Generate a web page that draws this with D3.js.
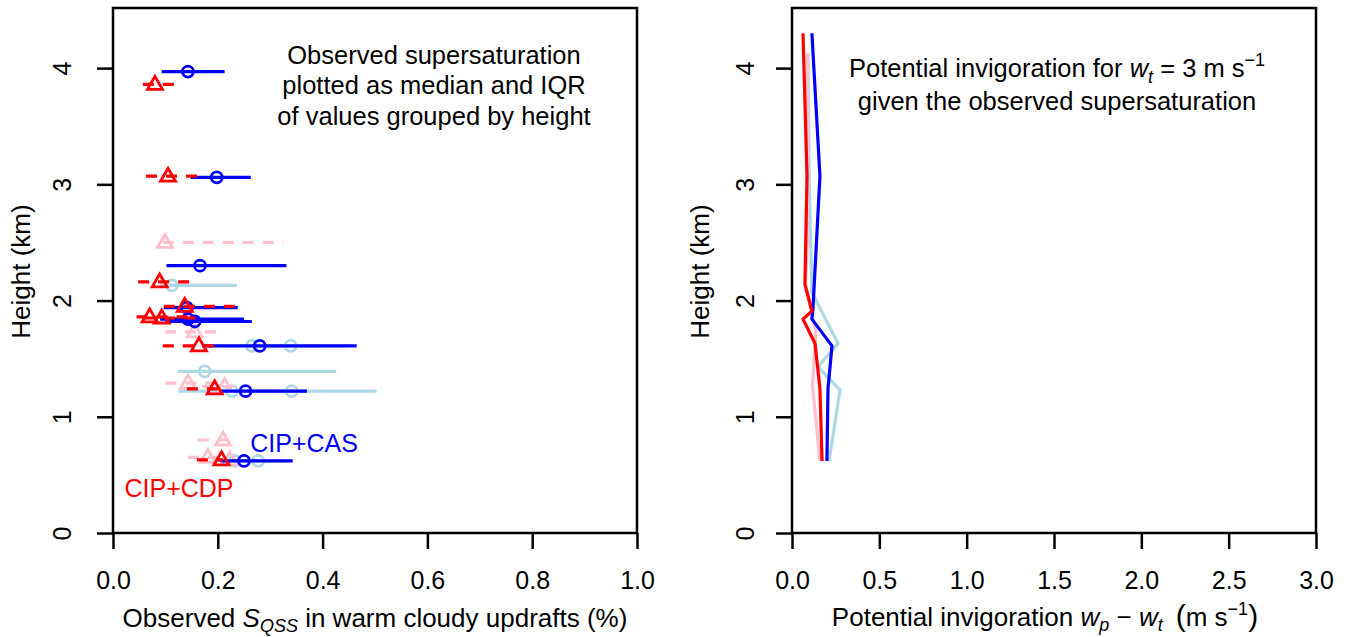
<!DOCTYPE html>
<html>
<head>
<meta charset="utf-8">
<script src="https://cdn.jsdelivr.net/npm/d3@7"></script>
<style>
  body { margin: 0; background: #fff; }
  svg text { font-family: "Liberation Sans", Arial, sans-serif; font-size: 25px; fill: #000; }
</style>
</head>
<body>
<svg id="chart" width="1346" height="637"></svg>
<script>
// left panel: observed S_QSS (median + IQR) per height group
var casHeight = [3.97, 3.06, 2.30, 1.94, 1.84, 1.82, 1.61, 1.22, 0.62];
var casMedian = [0.143, 0.198, 0.166, 0.141, 0.143, 0.156, 0.280, 0.253, 0.250];
var casQ25    = [0.093, 0.148, 0.102, 0.097, 0.090, 0.100, 0.170, 0.205, 0.205];
var casQ75    = [0.213, 0.263, 0.331, 0.238, 0.250, 0.265, 0.465, 0.370, 0.343];

var cdpHeight = [3.86, 3.07, 2.16, 1.95, 1.86, 1.85, 1.61, 1.24, 0.63];
var cdpMedian = [0.080, 0.105, 0.089, 0.137, 0.070, 0.093, 0.164, 0.194, 0.207];
var cdpQ25    = [0.057, 0.063, 0.048, 0.097, 0.045, 0.060, 0.095, 0.141, 0.160];
var cdpQ75    = [0.124, 0.165, 0.162, 0.238, 0.150, 0.171, 0.210, 0.210, 0.210];

var casAltHeight = [2.13, 1.61, 1.61, 1.39, 1.22, 1.22, 0.62, 0.62];
var casAltMedian = [0.112, 0.265, 0.339, 0.175, 0.227, 0.341, 0.232, 0.277];
var casAltQ25    = [0.090, 0.200, 0.250, 0.124, 0.124, 0.200, 0.200, 0.220];
var casAltQ75    = [0.236, 0.400, 0.450, 0.426, 0.370, 0.503, 0.300, 0.330];

var cdpAltHeight = [2.50, 1.73, 1.29, 1.26, 0.80, 0.65, 0.63];
var cdpAltMedian = [0.099, 0.156, 0.143, 0.213, 0.210, 0.181, 0.223];
var cdpAltQ25    = [0.095, 0.099, 0.100, 0.170, 0.162, 0.143, 0.190];
var cdpAltQ75    = [0.325, 0.213, 0.200, 0.240, 0.227, 0.200, 0.240];

// right panel: potential invigoration w_p - w_t
var wCasHeight    = [4.30, 3.07, 1.93, 1.84, 1.61, 1.24, 0.62];
var wCasValue     = [0.114, 0.160, 0.120, 0.114, 0.229, 0.206, 0.200];
var wCdpHeight    = [4.30, 3.07, 2.14, 1.91, 1.84, 1.63, 1.24, 0.62];
var wCdpValue     = [0.063, 0.086, 0.074, 0.114, 0.063, 0.132, 0.160, 0.172];
var wCasAltHeight = [4.13, 3.07, 2.07, 1.63, 1.43, 1.23, 0.62];
var wCasAltValue  = [0.092, 0.098, 0.114, 0.264, 0.149, 0.275, 0.212];
var wCdpAltHeight = [4.13, 3.07, 2.50, 2.14, 1.73, 1.27, 0.62];
var wCdpAltValue  = [0.088, 0.088, 0.088, 0.078, 0.137, 0.117, 0.160];

var xTicksLeft = [0, 0.2, 0.4, 0.6, 0.8, 1.0];
var xTicksRight = [0, 0.5, 1, 1.5, 2, 2.5, 3];
var yTicks = [0, 1, 2, 3, 4];

var svg = d3.select("#chart");

var y = d3.scaleLinear().domain([0, 4.5]).range([533, 10]);
var xL = d3.scaleLinear().domain([0, 1]).range([113, 637]);
var xR = d3.scaleLinear().domain([0, 3]).range([792, 1316]);

function zip(h, med, q25, q75) {
    return h.map(function(d, i){ return {h: d, m: med[i], lo: q25[i], hi: q75[i]}; });
}

function drawAxes(x, xTicks, fmt, labOff) {
    var g = svg.append("g");
    var bottom = g.append("g")
        .attr("transform", "translate(0,533)")
        .call(d3.axisBottom(x).tickValues(xTicks).tickFormat(fmt).tickSize(16));
    bottom.select(".domain").remove();
    bottom.selectAll("line").attr("stroke", "#000").attr("stroke-width", 2.5);
    bottom.selectAll("text").attr("y", 47).attr("dy", "0.35em")
        .style("font-size", "25px").style("font-family", "Liberation Sans, Arial, sans-serif");

    var left = g.append("g")
        .attr("transform", "translate(" + x.range()[0] + ",0)")
        .call(d3.axisLeft(y).tickValues(yTicks).tickFormat(d3.format("d")).tickSize(16));
    left.select(".domain").remove();
    left.selectAll("line").attr("stroke", "#000").attr("stroke-width", 2.5);
    left.selectAll("text")
        .attr("x", null).attr("dy", "0.35em")
        .attr("text-anchor", "middle")
        .attr("transform", "translate(" + labOff + ",0) rotate(-90)")
        .style("font-size", "25px").style("font-family", "Liberation Sans, Arial, sans-serif");

    g.append("rect")
        .attr("x", x.range()[0]).attr("y", y.range()[1] - 2)
        .attr("width", x.range()[1] - x.range()[0])
        .attr("height", y.range()[0] - y.range()[1] + 2)
        .attr("fill", "none").attr("stroke", "#000").attr("stroke-width", 2.5);

    g.append("text")
        .attr("text-anchor", "middle")
        .attr("transform", "translate(" + (x.range()[0] - 92) + "," + ((y.range()[0] + y.range()[1]) / 2) + ") rotate(-90)")
        .attr("dy", "0.35em")
        .style("font-size", "26px")
        .text("Height (km)");
}

drawAxes(xL, xTicksLeft, d3.format(".1f"), -51);
drawAxes(xR, xTicksRight, d3.format(".1f"), -47);

// ---- left panel marks
var plotL = svg.append("g");

function drawIqr(data, color, dashed, shape) {
    var grp = plotL.append("g");
    grp.selectAll("line").data(data).enter().append("line")
        .attr("x1", function(d){ return xL(d.lo); })
        .attr("x2", function(d){ return xL(d.hi); })
        .attr("y1", function(d){ return y(d.h); })
        .attr("y2", function(d){ return y(d.h); })
        .attr("stroke", color).attr("stroke-width", 3.2)
        .attr("stroke-dasharray", dashed ? "11,9" : null);
    if (shape === "circle") {
        grp.selectAll("circle").data(data).enter().append("circle")
            .attr("cx", function(d){ return xL(d.m); })
            .attr("cy", function(d){ return y(d.h); })
            .attr("r", 5.5)
            .attr("fill", "none").attr("stroke", color).attr("stroke-width", 2.8);
    } else {
        grp.selectAll("path").data(data).enter().append("path")
            .attr("d", function(d){
                var cx = xL(d.m), cy = y(d.h);
                return "M" + (cx - 7.5) + "," + (cy + 5) + "L" + (cx + 7.5) + "," + (cy + 5) + "L" + cx + "," + (cy - 8) + "Z";
            })
            .attr("fill", "none").attr("stroke", color).attr("stroke-width", 2.8)
            .attr("stroke-linejoin", "miter");
    }
}

drawIqr(zip(casAltHeight, casAltMedian, casAltQ25, casAltQ75), "#add8e6", false, "circle");
drawIqr(zip(cdpAltHeight, cdpAltMedian, cdpAltQ25, cdpAltQ75), "#ffc0cb", true, "triangle");
drawIqr(zip(casHeight, casMedian, casQ25, casQ75), "#0000ff", false, "circle");
drawIqr(zip(cdpHeight, cdpMedian, cdpQ25, cdpQ75), "#ff0000", true, "triangle");

svg.append("text").attr("x", 304).attr("y", 443).attr("dy", "0.35em")
    .attr("text-anchor", "middle").style("fill", "#0000ff").text("CIP+CAS");
svg.append("text").attr("x", 179).attr("y", 488).attr("dy", "0.35em")
    .attr("text-anchor", "middle").style("fill", "#ff0000").text("CIP+CDP");

var note = ["Observed supersaturation", "plotted as median and IQR", "of values grouped by height"];
svg.selectAll("text.note").data(note).enter().append("text")
    .attr("class", "note")
    .attr("x", 434)
    .attr("y", function(d, i){ return 55 + i * 30.5; })
    .attr("dy", "0.35em")
    .attr("text-anchor", "middle")
    .style("font-size", "25.5px")
    .text(function(d){ return d; });

// left x title
var tl = svg.append("text").attr("x", 375).attr("y", 618).attr("dy", "0.35em")
    .attr("text-anchor", "middle").style("font-size", "26px");
tl.append("tspan").text("Observed ");
tl.append("tspan").style("font-style", "italic").text("S");
tl.append("tspan").style("font-style", "italic").style("font-size", "18px").attr("dy", 5).text("QSS");
tl.append("tspan").attr("dy", -5).text(" in warm cloudy updrafts (%)");

// ---- right panel lines
var line = d3.line()
    .x(function(d){ return xR(d.v); })
    .y(function(d){ return y(d.h); });

function drawW(h, v, color) {
    var data = h.map(function(d, i){ return {h: d, v: v[i]}; });
    svg.append("path").datum(data)
        .attr("d", line)
        .attr("fill", "none").attr("stroke", color).attr("stroke-width", 3.2)
        .attr("stroke-linejoin", "round");
}

drawW(wCasAltHeight, wCasAltValue, "#add8e6");
drawW(wCdpAltHeight, wCdpAltValue, "#ffc0cb");
drawW(wCasHeight, wCasValue, "#0000ff");
drawW(wCdpHeight, wCdpValue, "#ff0000");

// right title
var t1 = svg.append("text").attr("x", 1057).attr("y", 68).attr("dy", "0.35em").attr("text-anchor", "middle")
    .style("font-size", "25.5px");
t1.append("tspan").text("Potential invigoration for ");
t1.append("tspan").style("font-style", "italic").text("w");
t1.append("tspan").style("font-style", "italic").style("font-size", "18px").attr("dy", 6).text("t");
t1.append("tspan").attr("dy", -6).text(" = 3 m s");
t1.append("tspan").style("font-size", "18px").attr("dy", -11).text("\u22121");
svg.append("text").attr("x", 1057).attr("y", 101).attr("dy", "0.35em").attr("text-anchor", "middle")
    .style("font-size", "25.5px")
    .text("given the observed supersaturation");

// right x title
var tr = svg.append("text").attr("x", 1045).attr("y", 617).attr("dy", "0.35em")
    .attr("text-anchor", "middle").style("font-size", "26px");
tr.append("tspan").text("Potential invigoration ");
tr.append("tspan").style("font-style", "italic").text("w");
tr.append("tspan").style("font-style", "italic").style("font-size", "18px").attr("dy", 5).text("p");
tr.append("tspan").attr("dy", -5).text(" \u2212 ");
tr.append("tspan").style("font-style", "italic").text("w");
tr.append("tspan").style("font-style", "italic").style("font-size", "18px").attr("dy", 5).text("t");
tr.append("tspan").attr("dy", -5).text("\u2002");
tr.append("tspan").style("font-size", "30px").text("(");
tr.append("tspan").text("m s");
tr.append("tspan").style("font-size", "18px").attr("dy", -11).text("\u22121");
tr.append("tspan").style("font-size", "30px").attr("dy", 11).text(")");
</script>
</body>
</html>
